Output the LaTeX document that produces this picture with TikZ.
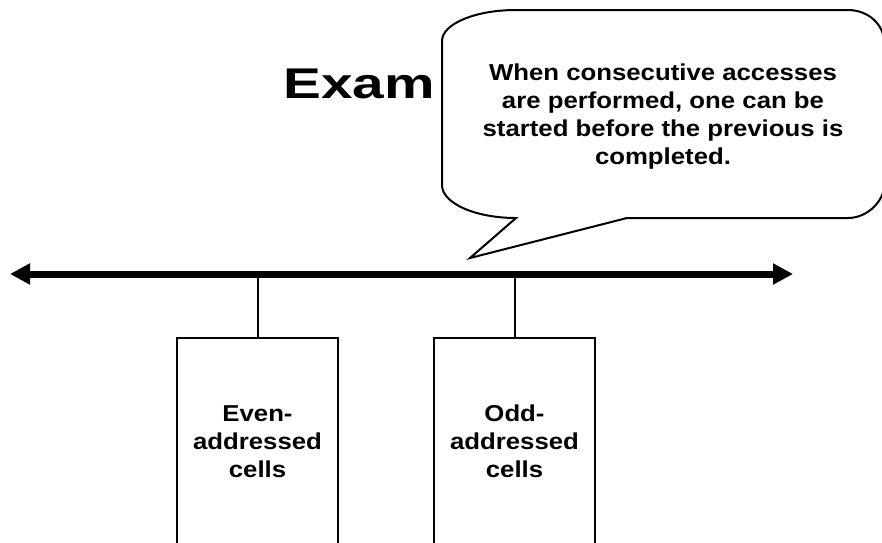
\documentclass[tikz,border=0pt]{standalone}
\usepackage{fontspec}
\setmainfont{Liberation Sans}
\newfontfamily\bodyfont[FakeStretch=1.12]{Liberation Sans}
\newfontfamily\titlefont[FakeStretch=1.32]{Liberation Sans}
\usetikzlibrary{arrows.meta}
\begin{document}
\begin{tikzpicture}[x=1pt,y=-1pt,
  thinline/.style={line width=2pt},
  memcell/.style={draw, line width=2pt, minimum width=161pt, minimum height=208pt,
    align=center, inner sep=0pt, font=\bodyfont\bfseries\fontsize{23}{28}\selectfont},
  calltext/.style={align=center, inner sep=0pt, font=\bodyfont\bfseries\fontsize{23}{28}\selectfont},
  bigtitle/.style={anchor=base west, inner sep=0pt, font=\titlefont\bfseries\fontsize{43}{50}\selectfont},
  busline/.style={line width=7pt, {Triangle[length=20pt,width=20pt]}-{Triangle[length=20pt,width=20pt]}}
]
\useasboundingbox (0,0) rectangle (882,542);
\clip (0,0) rectangle (882,542);

% title
\node[bigtitle] (title) at (283,98) {Exam};

% memory banks
\node[memcell] (even) at (257.5,441.5) {Even-\\addressed\\cells};
\node[memcell] (odd) at (514.5,441.5) {Odd-\\addressed\\cells};

% bus
\coordinate (busL) at (10,274);
\coordinate (busR) at (793,274);
\draw[thinline] (even.north) -- (even.north |- busL);
\draw[thinline] (odd.north) -- (odd.north |- busL);
\draw[busline] (busL) -- (busR);

% callout
\coordinate (tailA) at (516,218);
\coordinate (tailTip) at (470,258);
\coordinate (tailB) at (627,218);
\draw[thinline, fill=white, line join=miter]
  (tailB) -- (848,218)
  .. controls (867.9,218) and (884,200.3) .. (884,186)
  -- (884,42)
  .. controls (884,24.3) and (867.9,10) .. (848,10)
  -- (516,10)
  .. controls (475.1,10) and (442,23.9) .. (442,41)
  -- (442,185)
  .. controls (442,203.2) and (475.1,218) .. (tailA)
  -- (tailTip) -- cycle;
\node[calltext] (callout) at (663,117) {When consecutive accesses\\are performed, one can be\\started before the previous is\\completed.};
\end{tikzpicture}
\end{document}
